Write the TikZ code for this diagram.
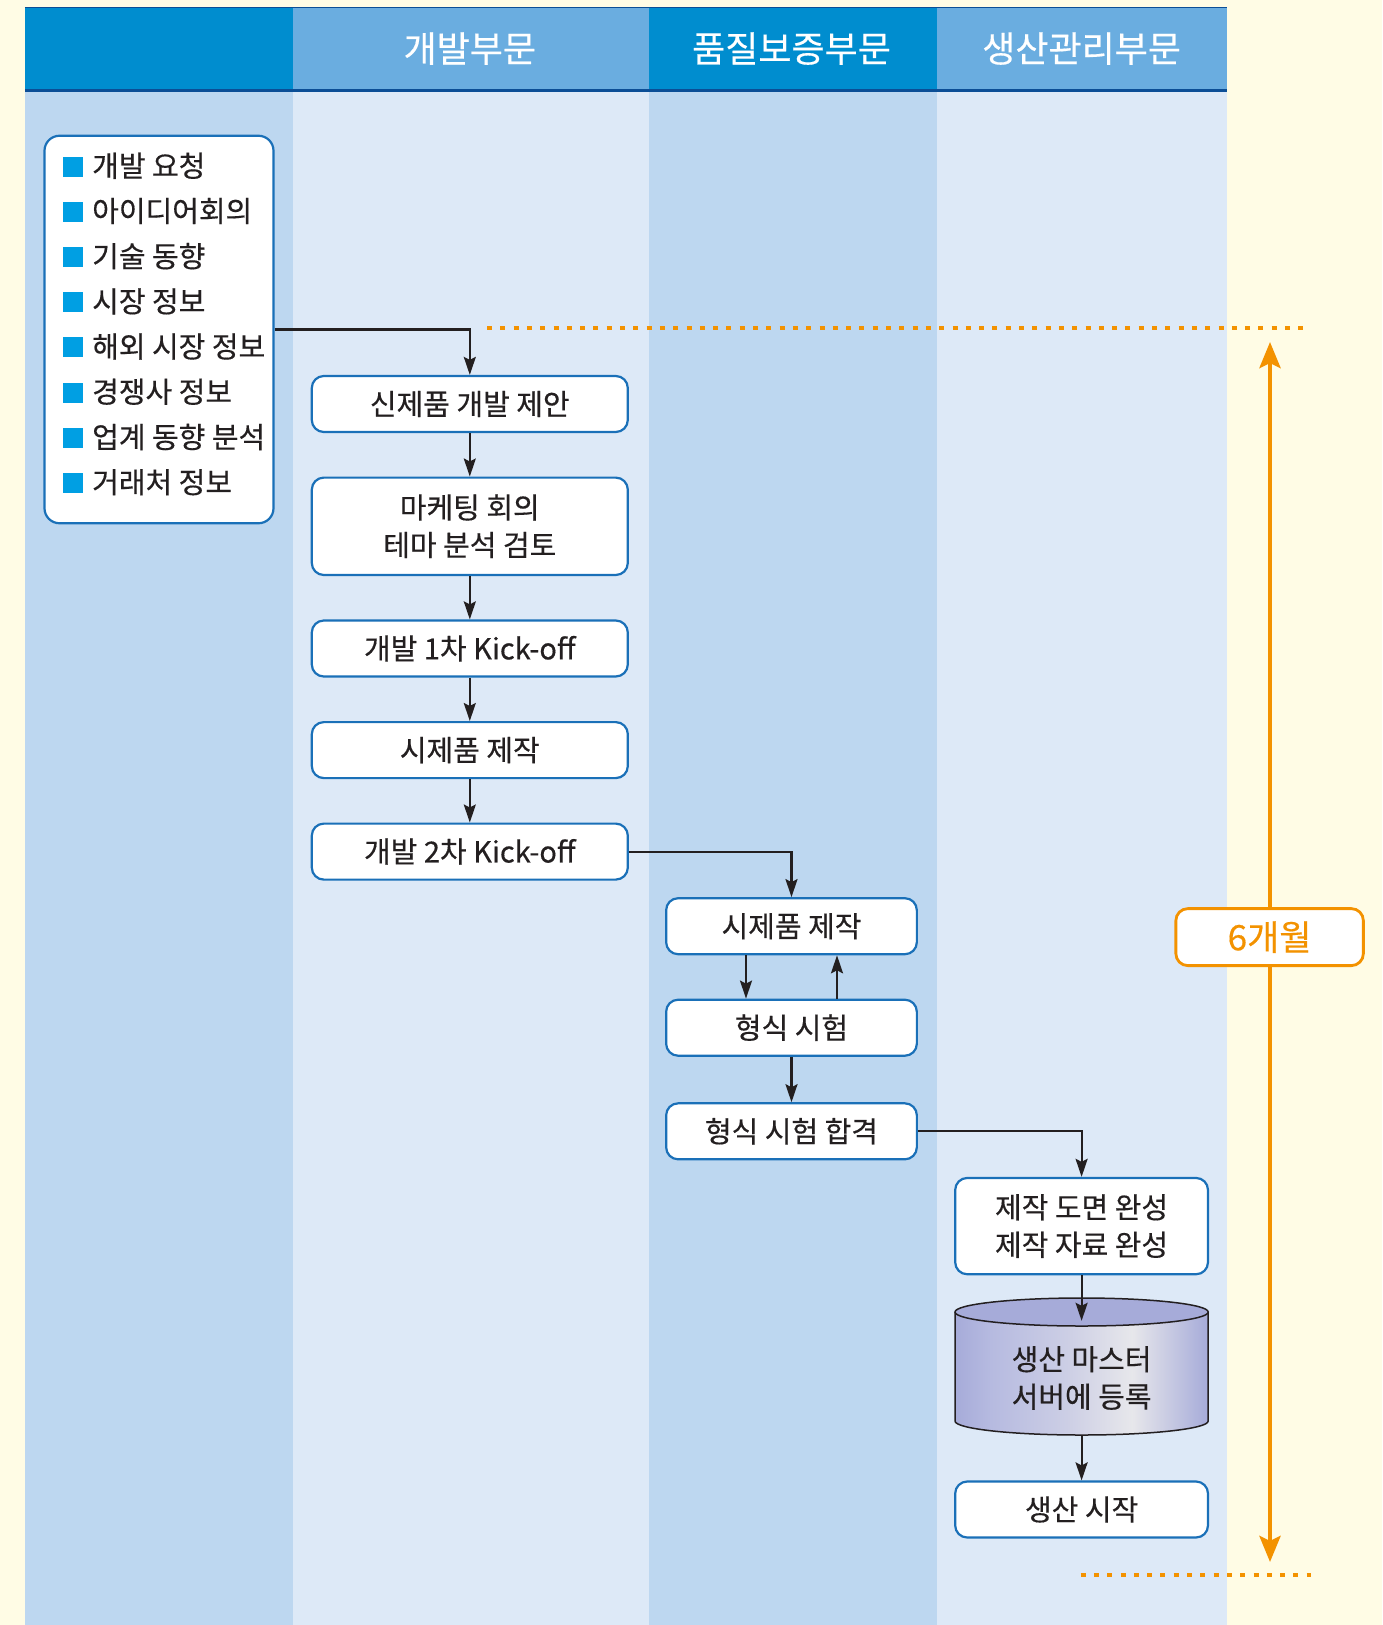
\documentclass[tikz,border=0pt]{standalone}
\usepackage{fontspec}
\setmainfont{Noto Sans CJK KR}[FakeBold=0.4]
\usetikzlibrary{arrows.meta}
\definecolor{cream}{HTML}{FFFCE5}
\definecolor{lanemid}{HTML}{BDD7F0}
\definecolor{lanelight}{HTML}{DDE9F7}
\definecolor{headdark}{HTML}{008DCF}
\definecolor{headlight}{HTML}{6AADE0}
\definecolor{headline}{HTML}{0B4E96}
\definecolor{boxline}{HTML}{1A70B8}
\definecolor{sqblue}{HTML}{009FE3}
\definecolor{txt}{HTML}{231F20}
\definecolor{orng}{HTML}{F39200}
\definecolor{cylA}{HTML}{A6ABD9}
\definecolor{cylB}{HTML}{B6BAE0}
\definecolor{cylC}{HTML}{E7E7EB}
\pgfdeclarehorizontalshading{dbshade}{100bp}{color(0bp)=(cylA); color(25bp)=(cylA); color(32bp)=(cylB); color(47bp)=(cylB!55!cylC); color(60bp)=(cylC); color(75bp)=(cylA); color(100bp)=(cylA)}
\newcommand{\sqmark}{\textcolor{sqblue}{\rule{20pt}{20pt}}\hspace{9pt}}

\begin{document}
\begin{tikzpicture}[x=1pt, y=-1pt,
  proc/.style={draw=boxline, line width=2.2pt, fill=white, rounded corners=12pt, minimum height=56pt, inner sep=0pt, align=center, text=txt, font=\fontsize{29}{37.5}\selectfont},
  item/.style={anchor=west, inner sep=0pt, text=txt, font=\fontsize{29}{32}\selectfont},
  hd/.style={text=white, font=\fontsize{36}{40}\selectfont},
  arr/.style={draw=txt, line width=2.2pt, -{Stealth[length=18pt,width=12pt,inset=3pt]}},
  span/.style={draw=orng, line width=4.5pt, {Stealth[length=26pt,width=21pt,inset=5pt]}-{Stealth[length=26pt,width=21pt,inset=5pt]}},
  dots/.style={draw=orng, line width=4pt, dash pattern=on 5pt off 8.3pt}]
\useasboundingbox (0,0) rectangle (1382,1625);
\fill[cream] (0,0) rectangle (1382,1625);

% lanes
\fill[lanemid] (24.9,90) rectangle (293.2,1625);
\fill[lanelight] (293.2,90) rectangle (648.5,1625);
\fill[lanemid] (648.5,90) rectangle (936.5,1625);
\fill[lanelight] (936.5,90) rectangle (1226.6,1625);
\fill[headdark] (24.9,7.3) rectangle (293.2,90);
\fill[headlight] (293.2,7.3) rectangle (648.5,90);
\fill[headdark] (648.5,7.3) rectangle (936.5,90);
\fill[headlight] (936.5,7.3) rectangle (1226.6,90);
\draw[headline, line width=1.2pt] (24.9,7.8) -- (1226.6,7.8);
\draw[headline, line width=3pt] (24.9,90) -- (1226.6,90);

\node[hd] (h2) at (469.8,48.6) {개발부문};
\node[hd] (h3) at (791.5,48.6) {품질보증부문};
\node[hd] (h4) at (1081.6,48.6) {생산관리부문};

% sources
\node[draw=boxline, line width=2.2pt, fill=white, rounded corners=15pt, minimum width=229pt, minimum height=387.5pt, inner sep=0pt] (src) at (159,329.5) {};
\node[item] (i1) at (63,165.8) {\sqmark 개발 요청};
\node[item] (i2) at (63,211.0) {\sqmark 아이디어회의};
\node[item] (i3) at (63,256.2) {\sqmark 기술 동향};
\node[item] (i4) at (63,301.4) {\sqmark 시장 정보};
\node[item] (i5) at (63,346.6) {\sqmark 해외 시장 정보};
\node[item] (i6) at (63,391.8) {\sqmark 경쟁사 정보};
\node[item] (i7) at (63,437.0) {\sqmark 업계 동향 분석};
\node[item] (i8) at (63,482.2) {\sqmark 거래처 정보};

% development
\node[proc, minimum width=316pt] (p1) at (469.8,404.0) {신제품 개발 제안};
\node[proc, minimum width=316pt, minimum height=97.4pt] (p2) at (469.8,526.3) {마케팅 회의\\테마 분석 검토};
\node[proc, minimum width=316pt] (p3) at (469.8,648.5) {개발 1차 Kick-off};
\node[proc, minimum width=316pt] (p4) at (469.8,750.1) {시제품 제작};
\node[proc, minimum width=316pt] (p5) at (469.8,851.6) {개발 2차 Kick-off};

% quality
\node[proc, minimum width=250.7pt] (q1) at (791.5,926.2) {시제품 제작};
\node[proc, minimum width=250.7pt] (q2) at (791.5,1027.7) {형식 시험};
\node[proc, minimum width=250.7pt] (q3) at (791.5,1131.3) {형식 시험 합격};

% production
\node[proc, minimum width=252.8pt, minimum height=96.3pt] (r1) at (1081.6,1226.1) {제작 도면 완성\\제작 자료 완성};
\fill[shading=dbshade] (955,1312) -- (955,1421) arc[start angle=180, end angle=360, x radius=126.6pt, y radius=14pt] -- (1208.2,1312) -- cycle;
\draw[txt, line width=1.5pt] (955,1312) -- (955,1421) arc[start angle=180, end angle=360, x radius=126.6pt, y radius=14pt] -- (1208.2,1312);
\filldraw[fill=cylA, draw=txt, line width=1.5pt] (1081.6,1312) ellipse [x radius=126.6pt, y radius=14pt];
\node[inner sep=0pt, minimum width=252.8pt, minimum height=114pt, align=center, text=txt, font=\fontsize{29}{37.5}\selectfont] (db) at (1081.6,1378) {생산 마스터\\서버에 등록};
\node[proc, minimum width=252.8pt] (r2) at (1081.6,1509.5) {생산 시작};

% flow
\path[arr] (src) -| (p1);
\path[arr] (p1) -- (p2);
\path[arr] (p2) -- (p3);
\path[arr] (p3) -- (p4);
\path[arr] (p4) -- (p5);
\path[arr] (p5) -| (q1);
\path[arr] ([xshift=-45.5pt]q1.south) -- ([xshift=-45.5pt]q2.north);
\path[arr] ([xshift=45.5pt]q2.north) -- ([xshift=45.5pt]q1.south);
\path[arr] (q2) -- (q3);
\path[arr] (q3) -| (r1);
\path[arr] (r1) -- (db);
\path[arr] (db) -- (r2);

% period
\coordinate (t1) at (487,328.4);
\coordinate (t2) at (1307,328.4);
\coordinate (u1) at (1080.6,1574.7);
\coordinate (u2) at (1310.5,1574.7);
\coordinate (s1) at (1270,342);
\coordinate (s2) at (1270,1562);
\path[dots] (t1) -- (t2);
\path[dots] (u1) -- (u2);
\path[span] (s1) -- (s2);
\node[draw=orng, line width=2.8pt, fill=white, rounded corners=12pt, minimum width=187.5pt, minimum height=57pt, text=orng, font=\fontsize{35}{38}\selectfont] (mon) at (1269.6,937.1) {6개월};
\end{tikzpicture}
\end{document}
